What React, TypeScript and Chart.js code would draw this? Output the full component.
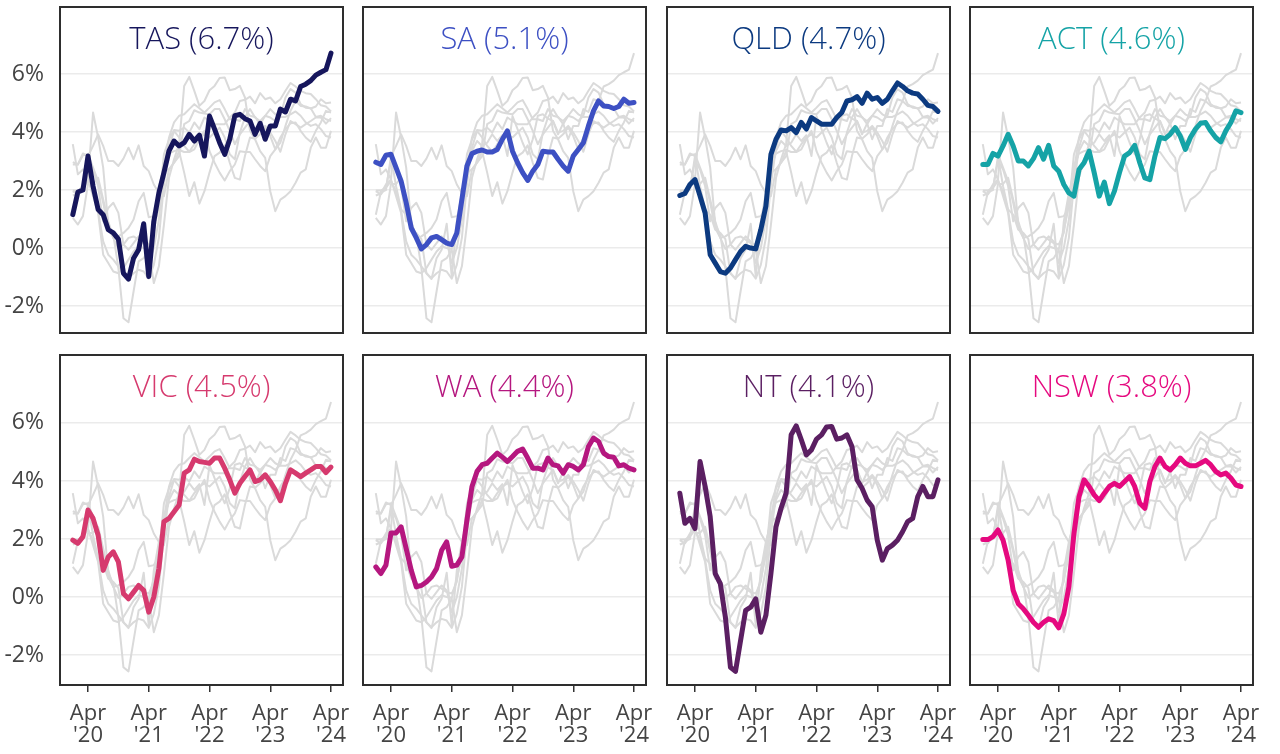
import React, { useEffect, useRef } from "react";
import { Chart, registerables } from "chart.js";
Chart.register(...registerables);

// ---- data (monthly, Jan 2020 .. Apr 2024; x = month index from Jan 2020) ----
const states = ["TAS", "SA", "QLD", "ACT", "VIC", "WA", "NT", "NSW"];
const latest = [6.7, 5.1, 4.7, 4.6, 4.5, 4.4, 4.1, 3.8];
const colors = ["#16165c", "#3d50c3", "#0c3a80", "#15a3a6", "#d63a6e", "#b5177f", "#5b1f62", "#e5097f"];
const tickPositions = [3, 15, 27, 39, 51];
const tickLabels = [["Apr", "'20"], ["Apr", "'21"], ["Apr", "'22"], ["Apr", "'23"], ["Apr", "'24"]];
const yTicks = [-2, 0, 2, 4, 6];

const TAS = [1.15, 1.93, 2.0, 3.17, 2.13, 1.33, 1.15, 0.63, 0.52, 0.31, -0.87, -1.07, -0.35, -0.06, 0.84, -0.98, 0.92, 1.9, 2.6, 3.35, 3.69, 3.52, 3.63, 3.92, 3.69, 3.89, 3.17, 4.55, 4.1, 3.63, 3.23, 3.75, 4.56, 4.61, 4.46, 4.38, 3.92, 4.3, 3.75, 4.21, 4.21, 4.79, 4.69, 5.13, 5.07, 5.57, 5.65, 5.77, 5.96, 6.06, 6.15, 6.72];
const SA = [2.96, 2.88, 3.2, 3.23, 2.77, 2.31, 1.56, 0.69, 0.35, -0.03, 0.12, 0.35, 0.4, 0.29, 0.17, 0.12, 0.52, 1.67, 2.83, 3.26, 3.34, 3.38, 3.31, 3.31, 3.4, 3.75, 4.04, 3.34, 2.94, 2.6, 2.33, 2.65, 2.88, 3.34, 3.31, 3.31, 3.06, 2.83, 2.65, 3.17, 3.4, 3.63, 4.21, 4.73, 5.07, 4.9, 4.88, 4.81, 4.88, 5.13, 4.99, 5.02];
const QLD = [1.81, 1.88, 2.19, 2.36, 1.79, 1.21, -0.23, -0.52, -0.81, -0.87, -0.69, -0.4, -0.12, 0.06, 0.0, -0.03, 0.63, 1.44, 3.23, 3.75, 4.07, 4.04, 4.15, 3.98, 4.33, 4.1, 4.5, 4.38, 4.27, 4.27, 4.27, 4.5, 4.67, 5.07, 5.11, 5.22, 4.99, 5.34, 5.13, 5.19, 4.99, 5.13, 5.42, 5.69, 5.57, 5.42, 5.34, 5.31, 5.13, 4.92, 4.88, 4.71];
const ACT = [2.88, 2.88, 3.26, 3.17, 3.52, 3.92, 3.52, 3.0, 3.0, 2.83, 3.08, 3.46, 3.06, 3.54, 2.83, 2.65, 2.19, 1.9, 1.79, 2.71, 2.94, 3.34, 2.6, 1.79, 2.27, 1.53, 1.96, 2.6, 3.17, 3.29, 3.54, 2.94, 2.42, 2.36, 3.17, 3.81, 3.77, 3.92, 4.15, 3.86, 3.4, 3.81, 4.1, 4.3, 4.33, 4.04, 3.81, 3.66, 4.04, 4.33, 4.73, 4.67];
const VIC = [1.96, 1.85, 2.08, 3.0, 2.71, 2.13, 0.92, 1.38, 1.56, 1.21, 0.12, -0.06, 0.17, 0.4, 0.23, -0.52, 0.0, 0.98, 2.6, 2.71, 2.94, 3.17, 4.27, 4.38, 4.75, 4.67, 4.64, 4.61, 4.79, 4.79, 4.44, 4.04, 3.58, 3.92, 4.15, 4.38, 3.98, 4.04, 4.21, 3.98, 3.69, 3.32, 3.92, 4.38, 4.27, 4.15, 4.27, 4.38, 4.5, 4.5, 4.29, 4.48];
const WA = [1.04, 0.81, 1.1, 2.21, 2.21, 2.42, 1.67, 0.92, 0.35, 0.4, 0.52, 0.69, 0.98, 1.61, 1.9, 1.06, 1.1, 1.38, 2.65, 3.81, 4.33, 4.56, 4.61, 4.79, 4.96, 4.82, 4.67, 4.84, 5.02, 5.1, 4.79, 4.44, 4.44, 4.38, 4.79, 4.56, 4.52, 4.27, 4.56, 4.5, 4.38, 4.56, 5.19, 5.48, 5.36, 4.96, 4.84, 4.82, 4.52, 4.56, 4.44, 4.38];
const NT = [3.58, 2.54, 2.71, 2.36, 4.67, 3.81, 2.77, 0.81, 0.46, -0.69, -2.42, -2.56, -1.5, -0.46, -0.35, -0.06, -1.21, -0.63, 0.81, 2.42, 3.06, 3.58, 5.59, 5.9, 5.42, 4.9, 5.07, 5.44, 5.59, 5.86, 5.88, 5.44, 5.48, 5.59, 5.19, 4.04, 3.75, 3.34, 3.11, 1.96, 1.27, 1.67, 1.79, 1.96, 2.25, 2.6, 2.71, 3.46, 3.81, 3.46, 3.46, 4.04];
const NSW = [1.98, 1.98, 2.08, 2.31, 1.96, 1.27, 0.23, -0.23, -0.4, -0.63, -0.87, -1.04, -0.87, -0.75, -0.81, -1.06, -0.58, 0.35, 2.19, 3.46, 4.04, 3.81, 3.52, 3.32, 3.58, 3.81, 3.92, 3.81, 3.98, 4.15, 3.81, 3.23, 3.06, 3.98, 4.5, 4.79, 4.5, 4.38, 4.56, 4.79, 4.61, 4.52, 4.52, 4.61, 4.71, 4.56, 4.33, 4.21, 4.27, 4.1, 3.86, 3.81];

const seriesList = [TAS, SA, QLD, ACT, VIC, WA, NT, NSW];

// ---- layout ----
const PANEL_LEFT = [60, 363, 667, 970];
const PANEL_W = 283;
const ROW_TOP = [7, 355];
const ROW_H = [326, 330];
const ROW_YMIN = [-2.93, -3.03];
const ROW_YMAX = [8.31, 8.34];
const X_MIN = -2.53;
const X_MAX = 53.37;
const FONT = "'Open Sans', 'DejaVu Sans', sans-serif";

const framePlugin = {
  id: "frame",
  afterDraw(chart: any) {
    const { ctx, chartArea: a } = chart;
    ctx.save();
    ctx.strokeStyle = "#2e2e2e";
    ctx.lineWidth = 2;
    ctx.strokeRect(a.left, a.top, a.right - a.left, a.bottom - a.top);
    ctx.restore();
  },
};

const innerTitlePlugin = {
  id: "innerTitle",
  afterDatasetsDraw(chart: any, _args: any, opts: any) {
    const { ctx, chartArea: a } = chart;
    ctx.save();
    ctx.font = `300 31px ${FONT}`;
    ctx.fillStyle = opts.color;
    ctx.textAlign = "center";
    ctx.textBaseline = "middle";
    ctx.fillText(opts.text, (a.left + a.right) / 2, a.top + 33);
    ctx.restore();
  },
};

function Panel({ idx }: { idx: number }) {
  const ref = useRef<HTMLCanvasElement | null>(null);
  const row = idx < 4 ? 0 : 1;
  const col = idx % 4;
  const isLeft = col === 0;
  const isBottom = row === 1;
  const padL = isLeft ? 0 : 10;
  const yW = isLeft ? 60 : 0;
  const padR = 25;
  const padT = 5;
  const xH = isBottom ? 69 : 0;
  const padB = isBottom ? 0 : 10;
  const width = padL + yW + PANEL_W + padR;
  const height = padT + ROW_H[row] + xH + padB;
  const left = PANEL_LEFT[col] - yW - padL;
  const top = ROW_TOP[row] - padT;

  useEffect(() => {
    if (!ref.current) return;
    const toPts = (arr: number[]) => arr.map((v, i) => ({ x: i, y: v }));
    const datasets: any[] = [
      {
        data: toPts(seriesList[idx]),
        borderColor: colors[idx],
        borderWidth: 5,
        borderJoinStyle: "round",
        borderCapStyle: "round",
        pointRadius: 0,
        order: 0,
      },
    ];
    seriesList.forEach((s, j) => {
      if (j === idx) return;
      datasets.push({
        data: toPts(s),
        borderColor: "#dadada",
        borderWidth: 2,
        borderJoinStyle: "round",
        pointRadius: 0,
        order: 1,
      });
    });
    const tickFont = { family: FONT, size: 22, weight: 400 as any, lineHeight: 1.0 };
    const chart = new Chart(ref.current, {
      type: "line",
      data: { datasets },
      plugins: [framePlugin, innerTitlePlugin],
      options: {
        responsive: false,
        animation: false,
        events: [],
        layout: { padding: { left: padL, right: padR, top: padT, bottom: padB } },
        plugins: {
          legend: { display: false },
          tooltip: { enabled: false },
          innerTitle: { text: `${states[idx]} (${latest[idx].toFixed(1)}%)`, color: colors[idx] },
        } as any,
        scales: {
          x: {
            type: "linear",
            min: X_MIN,
            max: X_MAX,
            display: isBottom,
            afterBuildTicks: (s: any) => {
              s.ticks = tickPositions.map((v) => ({ value: v }));
            },
            afterFit: (s: any) => {
              s.height = xH;
              s.paddingLeft = 0;
              s.paddingRight = 0;
            },
            ticks: {
              autoSkip: false,
              maxRotation: 0,
              minRotation: 0,
              padding: 11,
              color: "#444444",
              font: tickFont,
              callback: (v: any) => tickLabels[tickPositions.indexOf(Number(v))] as any,
            },
            grid: { drawOnChartArea: false, drawTicks: true, tickLength: 7, color: "#333333", lineWidth: 1.5 },
            border: { display: false },
          },
          y: {
            type: "linear",
            min: ROW_YMIN[row],
            max: ROW_YMAX[row],
            afterBuildTicks: (s: any) => {
              s.ticks = yTicks.map((v) => ({ value: v }));
            },
            afterFit: (s: any) => {
              s.width = yW;
              s.paddingTop = 0;
              s.paddingBottom = 0;
            },
            ticks: {
              display: isLeft,
              padding: 16,
              color: "#444444",
              font: { family: FONT, size: 23, weight: 400 as any },
              callback: (v: any) => `${v}%`,
            },
            grid: { color: "#ebebeb", lineWidth: 1.5, drawTicks: false },
            border: { display: false },
          },
        },
      },
    });
    return () => chart.destroy();
  }, [idx]);

  return (
    <canvas
      ref={ref}
      width={width}
      height={height}
      style={{ position: "absolute", left, top, width, height }}
    />
  );
}

export default function App() {
  return (
    <div style={{ position: "absolute", left: 0, top: 0, width: 1280, height: 754, background: "#ffffff", overflow: "hidden" }}>
      {states.map((_, i) => (
        <Panel key={i} idx={i} />
      ))}
    </div>
  );
}
